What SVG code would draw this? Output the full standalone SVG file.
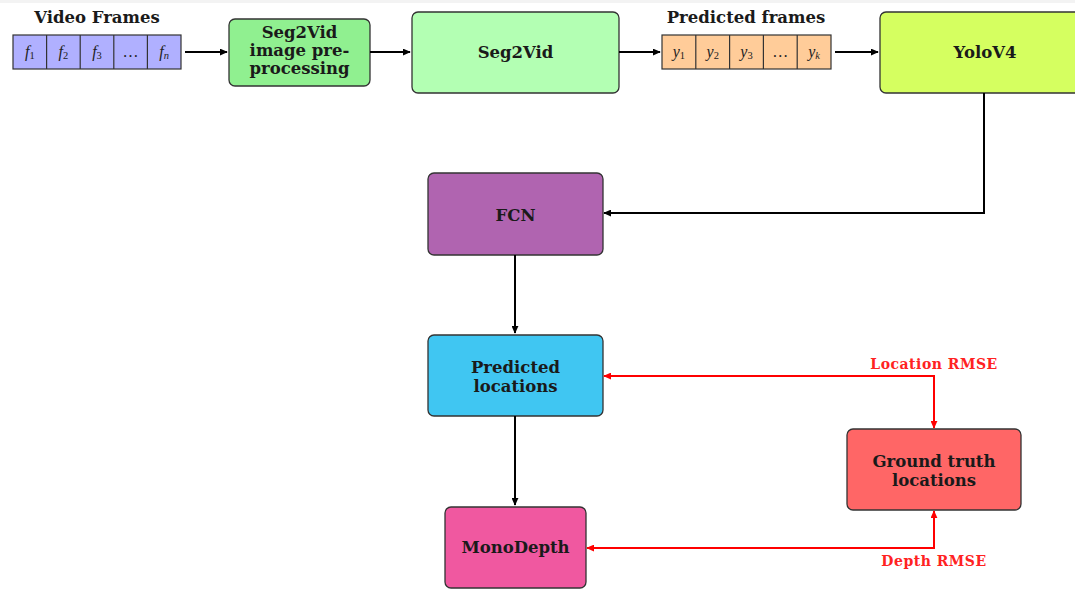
<svg xmlns="http://www.w3.org/2000/svg" width="1075" height="590" viewBox="0 0 1075 590">
<style>
.node{stroke:#333;stroke-width:1.3}
.t{font-family:"DejaVu Serif","Liberation Serif",serif;font-weight:bold;font-size:16.5px;fill:#1a1a1a;text-anchor:middle}
.m{font-family:"Liberation Serif",serif;font-style:italic;font-size:16px;fill:#222;text-anchor:middle}
.s{font-size:10.5px;font-style:normal}
.cell{stroke:#333;stroke-width:1.2}
.c{fill:none;stroke:#000;stroke-width:2}
.r{fill:none;stroke:#f00;stroke-width:2}
.rl{font-family:"DejaVu Serif","Liberation Serif",serif;font-weight:bold;font-size:14px;fill:#f22;text-anchor:middle;letter-spacing:0.5px}
</style>
<defs>
<marker id="a" viewBox="0 0 10 10" refX="9" refY="5" markerWidth="8" markerHeight="7" orient="auto-start-reverse" markerUnits="userSpaceOnUse" preserveAspectRatio="none"><path d="M0,0 L10,5 L0,10 Z" fill="#000"/></marker>
<marker id="ar" viewBox="0 0 10 10" refX="9" refY="5" markerWidth="8" markerHeight="7" orient="auto-start-reverse" markerUnits="userSpaceOnUse" preserveAspectRatio="none"><path d="M0,0 L10,5 L0,10 Z" fill="#f00"/></marker>
</defs>
<rect x="0" y="0" width="1075" height="3" fill="#f3f3f3"/>

<g id="video-frames">
<text class="t" x="97" y="23">Video Frames</text>
<rect class="cell" x="13" y="35" width="168" height="34" fill="#b0b0ff"/>
<path class="cell" d="M46.6,35V69M80.2,35V69M113.8,35V69M147.4,35V69"/>
<text class="m" x="29.8" y="57">f<tspan class="s" dy="2">1</tspan></text>
<text class="m" x="63.4" y="57">f<tspan class="s" dy="2">2</tspan></text>
<text class="m" x="97" y="57">f<tspan class="s" dy="2">3</tspan></text>
<text class="m" x="130.6" y="57" style="font-style:normal">…</text>
<text class="m" x="164.2" y="57">f<tspan class="s" dy="2" style="font-style:italic">n</tspan></text>
</g>

<g id="preprocessing">
<rect class="node" x="229" y="19" width="141" height="67" rx="6" fill="#90f090"/>
<text class="t" x="299.5" y="38">Seg2Vid</text>
<text class="t" x="299.5" y="56">image pre-</text>
<text class="t" x="299.5" y="74">processing</text>
</g>

<g id="seg2vid">
<rect class="node" x="412" y="12" width="207" height="81" rx="6" fill="#b3ffb3"/>
<text class="t" x="515.5" y="58">Seg2Vid</text>
</g>

<g id="predicted-frames">
<text class="t" x="746" y="23">Predicted frames</text>
<rect class="cell" x="662" y="35" width="169" height="34" fill="#ffcc99"/>
<path class="cell" d="M695.8,35V69M729.6,35V69M763.4,35V69M797.2,35V69"/>
<text class="m" x="678.9" y="57">y<tspan class="s" dy="2">1</tspan></text>
<text class="m" x="712.7" y="57">y<tspan class="s" dy="2">2</tspan></text>
<text class="m" x="746.5" y="57">y<tspan class="s" dy="2">3</tspan></text>
<text class="m" x="780.3" y="57" style="font-style:normal">…</text>
<text class="m" x="814.1" y="57">y<tspan class="s" dy="2" style="font-style:italic">k</tspan></text>
</g>

<g id="yolov4">
<rect class="node" x="880" y="12" width="210" height="81" rx="6" fill="#d5ff60"/>
<text class="t" x="985" y="58">YoloV4</text>
</g>

<g id="fcn">
<rect class="node" x="428" y="173" width="175" height="82" rx="6" fill="#b064b0"/>
<text class="t" x="515.5" y="221">FCN</text>
</g>

<g id="predicted-locations">
<rect class="node" x="428" y="335" width="175" height="81" rx="6" fill="#40c6f2"/>
<text class="t" x="515.5" y="373">Predicted</text>
<text class="t" x="515.5" y="392">locations</text>
</g>

<g id="monodepth">
<rect class="node" x="445" y="507" width="141" height="81" rx="6" fill="#f058a0"/>
<text class="t" x="515.5" y="553">MonoDepth</text>
</g>

<g id="ground-truth">
<rect class="node" x="847" y="429" width="174" height="81" rx="6" fill="#ff6666"/>
<text class="t" x="934" y="467">Ground truth</text>
<text class="t" x="934" y="486">locations</text>
</g>

<g id="connectors">
<path class="c" d="M185,52H227" marker-end="url(#a)"/>
<path class="c" d="M370,52H410" marker-end="url(#a)"/>
<path class="c" d="M619,52H660" marker-end="url(#a)"/>
<path class="c" d="M835,52H878" marker-end="url(#a)"/>
<path class="c" d="M984,93V213H604" marker-end="url(#a)"/>
<path class="c" d="M515,255V333" marker-end="url(#a)"/>
<path class="c" d="M515,416V505" marker-end="url(#a)"/>
<path class="r" d="M604,376H934V428" marker-start="url(#ar)" marker-end="url(#ar)"/>
<path class="r" d="M587,548H934V511" marker-start="url(#ar)" marker-end="url(#ar)"/>
<text class="rl" x="934" y="369">Location RMSE</text>
<text class="rl" x="934" y="566">Depth RMSE</text>
</g>
</svg>
